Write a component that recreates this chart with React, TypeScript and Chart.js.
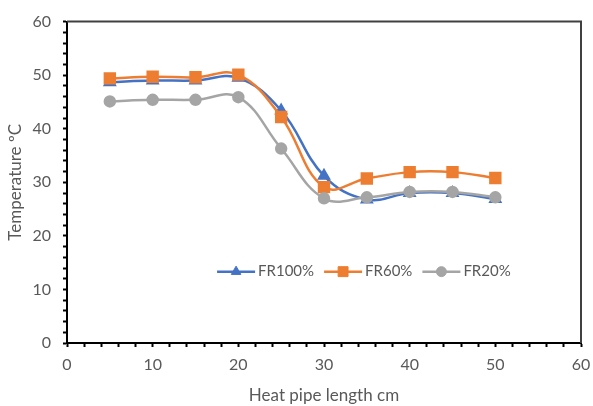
import React, { useEffect, useRef } from "react";
import { Chart, registerables } from "chart.js";
import { drawPoint } from "chart.js/helpers";

Chart.register(...registerables);

// Heat pipe length (cm) at each measuring station
const lengths = [5, 10, 15, 20, 25, 30, 35, 40, 45, 50];

// Temperatures (°C) for each fill ratio
const fr100 = [48.7, 49.0, 49.0, 49.5, 43.4, 31.2, 26.8, 28.0, 28.0, 26.9];
const fr60 = [49.4, 49.7, 49.6, 50.1, 42.2, 29.1, 30.7, 31.9, 31.9, 30.8];
const fr20 = [45.1, 45.4, 45.4, 45.9, 36.3, 27.0, 27.2, 28.2, 28.2, 27.2];

const seriesNames = ["FR100%", "FR60%", "FR20%"];

const FONT = "Lato, 'Liberation Sans', sans-serif";
const TEXT = "#595959";

const toPoints = (ys: number[]) => lengths.map((x, i) => ({ x, y: ys[i] }));

// Frame on the top and right of the plot area
const framePlugin = {
  id: "plotFrame",
  beforeDatasetsDraw(chart: any) {
    const { ctx, chartArea: a } = chart;
    ctx.save();
    ctx.strokeStyle = "#404040";
    ctx.lineWidth = 2;
    ctx.beginPath();
    ctx.moveTo(a.left, a.top);
    ctx.lineTo(a.right, a.top);
    ctx.lineTo(a.right, a.bottom);
    ctx.stroke();
    ctx.restore();
  },
};

// Legend drawn inside the plot: line sample with marker, then the series name
const innerLegend = {
  id: "innerLegend",
  afterDatasetsDraw(chart: any) {
    const { ctx, chartArea: a } = chart;
    const ds = chart.data.datasets;
    ctx.save();
    ctx.font = `15px ${FONT}`;
    ctx.textBaseline = "middle";
    const y = a.top + (a.bottom - a.top) * 0.778;
    let x = a.left + (a.right - a.left) * 0.292;
    const lineLen = 38;
    for (let i = 0; i < ds.length; i++) {
      const d = ds[i];
      ctx.strokeStyle = d.borderColor;
      ctx.lineWidth = 2.5;
      ctx.beginPath();
      ctx.moveTo(x, y);
      ctx.lineTo(x + lineLen, y);
      ctx.stroke();
      ctx.fillStyle = d.pointBackgroundColor;
      ctx.strokeStyle = d.pointBorderColor;
      ctx.lineWidth = 1;
      drawPoint(ctx, { pointStyle: d.pointStyle, radius: d.pointRadius, rotation: 0, borderWidth: 1 }, x + lineLen / 2, y);
      ctx.fillStyle = TEXT;
      ctx.textAlign = "left";
      const label = d.label;
      ctx.fillText(label, x + lineLen + 3, y);
      x += lineLen + 3 + ctx.measureText(label).width + 10;
    }
    ctx.restore();
  },
};

export default function App() {
  const ref = useRef<HTMLCanvasElement | null>(null);

  useEffect(() => {
    if (!ref.current) return;
    const chart = new Chart(ref.current, {
      type: "line",
      data: {
        datasets: [
          {
            label: seriesNames[0],
            data: toPoints(fr100),
            borderColor: "#4472C4",
            backgroundColor: "#4472C4",
            pointBackgroundColor: "#4472C4",
            pointBorderColor: "#4472C4",
            pointStyle: "triangle",
            pointRadius: 5.5,
            borderWidth: 2.5,
            tension: 0.4,
            order: 3,
          },
          {
            label: seriesNames[1],
            data: toPoints(fr60),
            borderColor: "#ED7D31",
            backgroundColor: "#ED7D31",
            pointBackgroundColor: "#ED7D31",
            pointBorderColor: "#ED7D31",
            pointStyle: "rect",
            pointRadius: 7,
            borderWidth: 2.5,
            tension: 0.4,
            order: 2,
          },
          {
            label: seriesNames[2],
            data: toPoints(fr20),
            borderColor: "#A5A5A5",
            backgroundColor: "#A5A5A5",
            pointBackgroundColor: "#A5A5A5",
            pointBorderColor: "#A5A5A5",
            pointStyle: "circle",
            pointRadius: 5,
            borderWidth: 2.5,
            tension: 0.4,
            order: 1,
          },
        ] as any,
      },
      options: {
        animation: false,
        responsive: false,
        layout: { padding: { left: 0, right: 12, top: 21, bottom: 0 } },
        plugins: {
          legend: { display: false },
          tooltip: { enabled: false },
        },
        scales: {
          x: {
            type: "linear",
            min: 0,
            max: 60,
            afterFit: (s: any) => {
              s.height = 63;
              s.paddingLeft = 0;
              s.paddingRight = 0;
            },
            ticks: {
              stepSize: 2,
              autoSkip: false,
              maxRotation: 0,
              padding: 8,
              color: TEXT,
              font: { family: FONT, size: 16 },
              callback: (v: any) => (Number(v) % 10 === 0 ? String(v) : ""),
            },
            grid: {
              drawOnChartArea: false,
              drawTicks: true,
              tickLength: 4,
              tickColor: "#000",
              tickWidth: 2,
            },
            border: { display: true, color: "#000", width: 2 },
            title: {
              display: true,
              text: "Heat pipe length cm",
              color: TEXT,
              font: { family: FONT, size: 17 },
              padding: { top: 6, bottom: 0 },
            },
          },
          y: {
            type: "linear",
            min: 0,
            max: 60,
            afterFit: (s: any) => {
              s.width = 67;
            },
            ticks: {
              stepSize: 2,
              autoSkip: false,
              padding: 12,
              color: TEXT,
              font: { family: FONT, size: 16 },
              callback: (v: any) => (Number(v) % 10 === 0 ? String(v) : ""),
            },
            grid: {
              drawOnChartArea: false,
              drawTicks: true,
              tickLength: 4,
              tickColor: "#000",
              tickWidth: 2,
            },
            border: { display: true, color: "#000", width: 2 },
            title: {
              display: true,
              text: "Temperature ºC",
              color: TEXT,
              font: { family: FONT, size: 17 },
              padding: { top: 5, bottom: 4 },
            },
          },
        },
      } as any,
      plugins: [framePlugin, innerLegend],
    });
    return () => chart.destroy();
  }, []);

  return (
    <div style={{ position: "absolute", left: 0, top: 0, width: 593, height: 406, background: "#fff" }}>
      <canvas ref={ref} width={593} height={406} />
    </div>
  );
}
